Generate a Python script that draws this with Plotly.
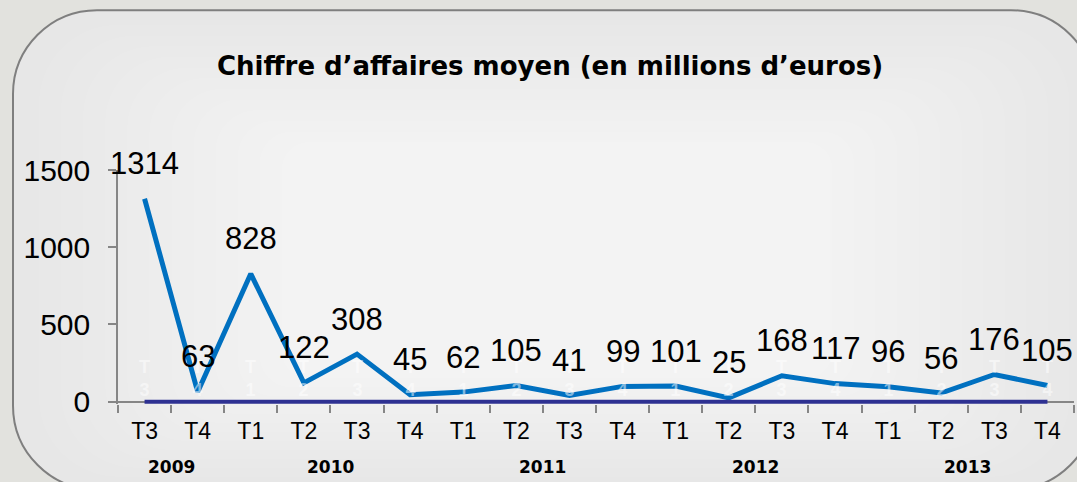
import plotly.graph_objects as go

# ---- data ----
quarters = ["T3", "T4", "T1", "T2", "T3", "T4", "T1", "T2", "T3", "T4",
            "T1", "T2", "T3", "T4", "T1", "T2", "T3", "T4"]
values = [1314, 63, 828, 122, 308, 45, 62, 105, 41, 99, 101, 25, 168, 117, 96, 56, 176, 105]
baseline = [0] * 18
years = ["2009", "2010", "2011", "2012", "2013"]
year_counts = [2, 4, 4, 4, 4]
title = "Chiffre d’affaires moyen (en millions d’euros)"

W, H = 1077, 482
YMIN, YMAX = -15, 1500
TOP_PX, ZERO_PX = 170, 402
scale = (ZERO_PX - TOP_PX) / YMAX
BOT_PX = ZERO_PX - YMIN * scale
L, R, T = 118, 3, TOP_PX
B = H - BOT_PX
PW, PH = W - L - R, BOT_PX - TOP_PX


def px(x):
    return (x - L) / PW


def py(y):
    return (BOT_PX - y) / PH


def rrect(x0, y0, x1, y1, r):
    k = 0.5523 * r
    pts = []
    pts.append(f"M{px(x0 + r)},{py(y0)}")
    pts.append(f"L{px(x1 - r)},{py(y0)}")
    pts.append(f"C{px(x1 - r + k)},{py(y0)} {px(x1)},{py(y0 + r - k)} {px(x1)},{py(y0 + r)}")
    pts.append(f"L{px(x1)},{py(y1 - r)}")
    pts.append(f"C{px(x1)},{py(y1 - r + k)} {px(x1 - r + k)},{py(y1)} {px(x1 - r)},{py(y1)}")
    pts.append(f"L{px(x0 + r)},{py(y1)}")
    pts.append(f"C{px(x0 + r - k)},{py(y1)} {px(x0)},{py(y1 - r + k)} {px(x0)},{py(y1 - r)}")
    pts.append(f"L{px(x0)},{py(y0 + r)}")
    pts.append(f"C{px(x0)},{py(y0 + r - k)} {px(x0 + r - k)},{py(y0)} {px(x0 + r)},{py(y0)}")
    return " ".join(pts) + " Z"


xs = list(range(len(values)))

fig = go.Figure()
fig.add_trace(go.Scatter(x=xs, y=values, mode="lines",
                         line=dict(color="#0070C0", width=5), cliponaxis=False,
                         hoverinfo="skip"))
fig.add_trace(go.Scatter(x=xs, y=baseline, mode="lines",
                         line=dict(color="#2E3192", width=4), cliponaxis=False,
                         hoverinfo="skip"))

shapes = []
ox0, oy0, ox1, oy1, orad = 13, 10, 1095, 490, 84
shapes.append(dict(type="path", xref="paper", yref="paper", path=rrect(ox0, oy0, ox1, oy1, orad),
                   fillcolor="#e7e7e7", line=dict(color="#7f7f7f", width=2), layer="below"))
cx, cy = 560, 270
n = 22
for i in range(1, n + 1):
    f = i / (n + 1)
    x0 = ox0 + 4 + (cx - 40 - ox0) * f
    x1 = ox1 - 4 - (ox1 - cx - 40) * f
    y0 = oy0 + 4 + (cy - 15 - oy0) * f
    y1 = oy1 - 4 - (oy1 - cy - 15) * f
    r = max(orad * (1 - f * 1.3), 2)
    shapes.append(dict(type="path", xref="paper", yref="paper", path=rrect(x0, y0, x1, y1, r),
                       fillcolor="rgba(255,255,255,0.075)", line=dict(width=0), layer="below"))

annotations = []
# faint white labels of the zero series
for i, q in enumerate(quarters):
    annotations.append(dict(x=i, y=0, xref="x", yref="y", text=f"<b>{q[0]}<br>{q[1]}</b>",
                            showarrow=False, yshift=23,
                            font=dict(family="Liberation Sans, Arial", size=18,
                                      color="rgba(255,255,255,0.5)")))
for i, v in enumerate(values):
    annotations.append(dict(x=i, y=v, xref="x", yref="y", text=str(v), showarrow=False,
                            yshift=35, font=dict(family="Liberation Sans, Arial", size=31, color="#000")))

start = 0
for yr, c in zip(years, year_counts):
    center = start + (c - 1) / 2
    annotations.append(dict(x=center, y=py(467), xref="x", yref="paper", text=f"<b>{yr}</b>",
                            showarrow=False, yanchor="middle",
                            font=dict(family="DejaVu Sans", size=17, color="#000")))
    start += c

annotations.append(dict(x=px(550), y=py(66), xref="paper", yref="paper", text=f"<b>{title}</b>",
                        showarrow=False, yanchor="middle", xanchor="center",
                        font=dict(family="DejaVu Sans", size=26, color="#000")))

fig.update_layout(
    width=W, height=H,
    margin=dict(l=L, r=R, t=T, b=B, pad=0),
    paper_bgcolor="#e2e2de",
    plot_bgcolor="rgba(0,0,0,0)",
    showlegend=False,
    shapes=shapes,
    annotations=annotations,
    xaxis=dict(range=[-0.5, len(values) - 0.5], tickmode="array", tickvals=xs, ticktext=quarters,
               showgrid=False, zeroline=False, showline=False,
               ticks="", ticklabelstandoff=11,
               tickfont=dict(family="Liberation Sans, Arial", size=23, color="#000"),
               minor=dict(tickvals=[i - 0.5 for i in range(len(values) + 1)], ticks="outside",
                          ticklen=8, tickcolor="#868686", tickwidth=1.5, showgrid=False)),
    yaxis=dict(range=[YMIN, YMAX], tickvals=[0, 500, 1000, 1500], showgrid=False,
               zeroline=True, zerolinecolor="#868686", zerolinewidth=1.5,
               showline=True, linecolor="#868686", linewidth=1.5, ticks="outside", ticklen=8,
               tickcolor="#868686", tickwidth=1.5, ticklabelstandoff=12,
               tickfont=dict(family="Liberation Sans, Arial", size=30, color="#000")),
)

fig.write_html("out.html", config={"displayModeBar": False},
               post_script="document.body.style.margin='0';document.body.style.overflow='hidden';")
